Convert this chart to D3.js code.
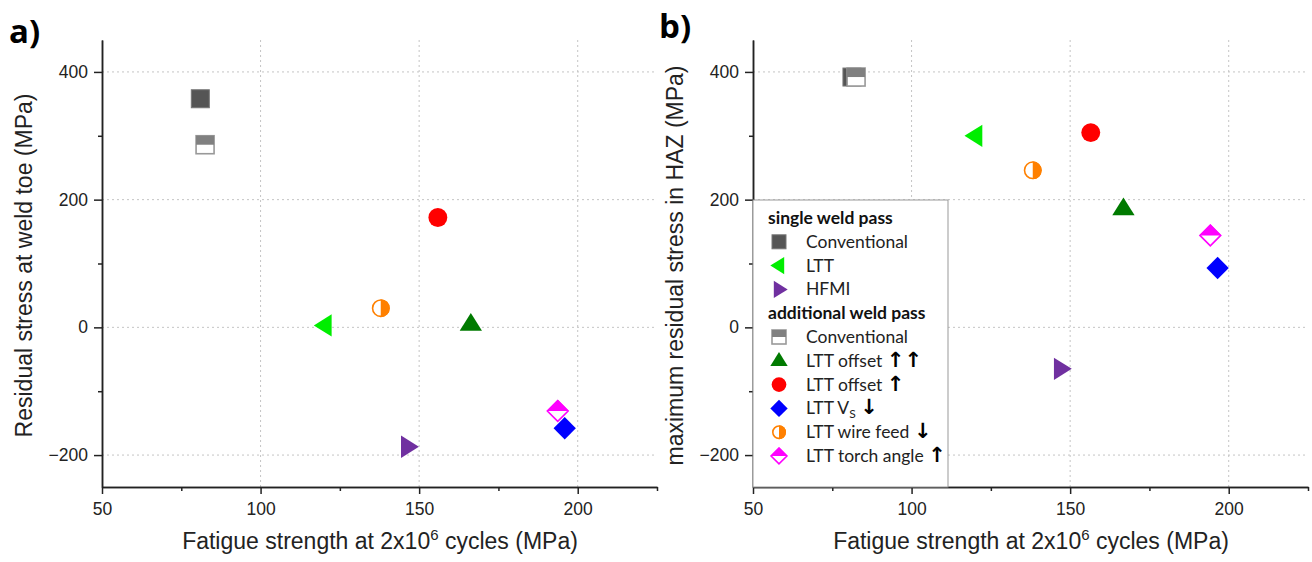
<!DOCTYPE html>
<html>
<head>
<meta charset="utf-8">
<script src="https://cdn.jsdelivr.net/npm/d3@7"></script>
<style>
body { margin: 0; background: #fff; }
svg text { font-family: "Liberation Sans", Arial, sans-serif; }
</style>
</head>
<body>
<div id="chart"></div>
<script>
// series
const names = ["Conventional", "LTT", "HFMI", "Conventional", "LTT offset ↑↑", "LTT offset ↑", "LTT V_S ↓", "LTT wire feed ↓", "LTT torch angle ↑"];
const groups = ["single", "single", "single", "additional", "additional", "additional", "additional", "additional", "additional"];
const shapes = ["square", "triLeft", "triRight", "halfSquare", "triUp", "circle", "diamond", "halfCircle", "halfDiamond"];
const colors = ["#555555", "#00ee00", "#7030a0", "#808080", "#007a00", "#ff0000", "#0000ff", "#ff8000", "#ff00ff"];
const fatigueA = [81, 120.3, 146.4, 82.5, 166.3, 155.9, 195.9, 137.9, 193.7];
const fatigueB = [81.2, 120.2, 147, 82.5, 166.8, 156.5, 196.5, 138.2, 194.2];
const stressToe = [358, 3, -187, 286, 5, 172, -158, 30, -131];
const stressHAZ = [392, 300, -65, 392, 186, 305, 93, 246, 144];
const drawOrder = [0, 3, 1, 2, 4, 5, 7, 8, 6];

const xMajor = [50, 100, 150, 200];
const xMinor = [75, 125, 175, 225];
const yMajor = [-200, 0, 200, 400];
const yMinor = [-100, 100, 300];

const W = 1312, H = 562;
const plotTop = 40, plotBottom = 487, plotW = 555;

const svg = d3.select("#chart").append("svg")
  .attr("width", W).attr("height", H);

// draw a marker centred at 0,0
function marker(g, shape, color, s) {
  const h = s / 2;
  if (shape === "square") {
    g.append("rect").attr("x", -h).attr("y", -h).attr("width", s).attr("height", s)
      .attr("fill", color).attr("stroke", "#777").attr("stroke-width", 1);
  } else if (shape === "halfSquare") {
    g.append("rect").attr("x", -h).attr("y", -h).attr("width", s).attr("height", s)
      .attr("fill", "#fff").attr("stroke", "#999").attr("stroke-width", 1.6);
    g.append("rect").attr("x", -h).attr("y", -h).attr("width", s).attr("height", h)
      .attr("fill", color);
  } else if (shape === "triLeft") {
    const r = s * 0.62;
    g.append("path").attr("d", `M${-r},0L${r * 0.6},${-r}L${r * 0.6},${r}Z`).attr("fill", color);
  } else if (shape === "triRight") {
    const r = s * 0.62;
    g.append("path").attr("d", `M${r},0L${-r * 0.6},${-r}L${-r * 0.6},${r}Z`).attr("fill", color);
  } else if (shape === "triUp") {
    const r = s * 0.62;
    g.append("path").attr("d", `M0,${-r}L${r},${r * 0.6}L${-r},${r * 0.6}Z`).attr("fill", color);
  } else if (shape === "circle") {
    g.append("circle").attr("r", h * 1.05).attr("fill", color);
  } else if (shape === "halfCircle") {
    const r = h;
    g.append("circle").attr("r", r - 0.8).attr("fill", "#fff").attr("stroke", color).attr("stroke-width", 1.6);
    g.append("path").attr("d", `M0,${-r}A${r},${r} 0 0,1 0,${r}Z`).attr("fill", color);
  } else if (shape === "diamond") {
    const r = s * 0.62;
    g.append("path").attr("d", `M0,${-r}L${r},0L0,${r}L${-r},0Z`).attr("fill", color);
  } else if (shape === "halfDiamond") {
    const r = s * 0.62;
    g.append("path").attr("d", `M0,${-r + 0.8}L${r - 0.8},0L0,${r - 0.8}L${-r + 0.8},0Z`)
      .attr("fill", "#fff").attr("stroke", color).attr("stroke-width", 1.6);
    g.append("path").attr("d", `M0,${-r}L${r},0L${-r},0Z`).attr("fill", color);
  }
}

function panel(left, xvals, yvals, ytitle, tag, tagX, tagY) {
  const x = d3.scaleLinear().domain([50, 225]).range([left, left + plotW]);
  const y = d3.scaleLinear().domain([-250, 450]).range([plotBottom, plotTop]);
  const g = svg.append("g");

  // grid
  g.append("g").selectAll("line").data(xMajor.slice(1)).join("line")
    .attr("x1", d => x(d)).attr("x2", d => x(d)).attr("y1", plotTop).attr("y2", plotBottom)
    .attr("stroke", "#c4c4c4").attr("stroke-dasharray", "2,3");
  g.append("g").selectAll("line").data(yMajor).join("line")
    .attr("x1", left).attr("x2", left + plotW).attr("y1", d => y(d)).attr("y2", d => y(d))
    .attr("stroke", "#c4c4c4").attr("stroke-dasharray", "2,3");

  // axes
  g.append("g").attr("transform", `translate(0,${plotBottom})`)
    .call(d3.axisBottom(x).tickValues(xMajor).tickSize(7).tickSizeOuter(0).tickPadding(9));
  g.append("g").attr("transform", `translate(0,${plotBottom})`)
    .call(d3.axisBottom(x).tickValues(xMinor).tickSize(4).tickSizeOuter(0).tickFormat(""));
  g.append("g").attr("transform", `translate(${left},0)`)
    .call(d3.axisLeft(y).tickValues(yMajor).tickSize(8).tickSizeOuter(0).tickPadding(6)
      .tickFormat(d => d < 0 ? "\u2212" + Math.abs(d) : d));
  g.append("g").attr("transform", `translate(${left},0)`)
    .call(d3.axisLeft(y).tickValues(yMinor).tickSize(4).tickSizeOuter(0).tickFormat(""));
  g.selectAll(".domain, .tick line").attr("stroke", "#222").attr("stroke-width", 1.5);
  g.selectAll(".tick text").attr("font-size", 17.5).attr("fill", "#222")
    .attr("font-family", "Liberation Sans, Arial, sans-serif");

  // axis titles
  const xt = g.append("text").attr("x", left + 278).attr("y", 549)
    .attr("text-anchor", "middle").attr("font-size", 23).attr("fill", "#222");
  xt.append("tspan").text("Fatigue strength at 2x10");
  xt.append("tspan").attr("dy", -9).attr("font-size", 15).text("6");
  xt.append("tspan").attr("dy", 9).text(" cycles (MPa)");

  g.append("text").attr("transform", `translate(${left - 70},${(plotTop + plotBottom) / 2 + 2}) rotate(-90)`)
    .attr("text-anchor", "middle").attr("font-size", 23).attr("fill", "#222").text(ytitle);

  g.append("text").attr("x", tagX).attr("y", tagY)
    .attr("font-size", 33).attr("font-weight", "bold").attr("fill", "#000")
    .style("font-family", "Open Sans, sans-serif").text(tag);

  // points
  g.append("g").selectAll("g").data(drawOrder).join("g")
    .attr("transform", i => `translate(${x(xvals[i])},${y(yvals[i])})`)
    .each(function (i) { marker(d3.select(this), shapes[i], colors[i], 18); });

  return { x, y, g };
}

panel(102, fatigueA, stressToe, "Residual stress at weld toe (MPa)", "a)", 9, 43);
panel(753, fatigueB, stressHAZ, "maximum residual stress in HAZ (MPa)", "b)", 659, 38);

// legend inside panel b
const lg = svg.append("g").attr("transform", `translate(753,200)`);
lg.append("rect").attr("x", 0).attr("y", 0).attr("width", 195).attr("height", 287)
  .attr("fill", "#fff").attr("stroke", "#999").attr("stroke-width", 1);

const rows = [];
rows.push({ head: "single weld pass" });
groups.forEach((gr, i) => { if (gr === "single") rows.push({ i }); });
rows.push({ head: "additional weld pass" });
groups.forEach((gr, i) => { if (gr === "additional") rows.push({ i }); });

// text with bold arrows and an optional subscript (marked by "_")
function legendText(t, label) {
  const pieces = label.split(/([↑↓])/);
  pieces.forEach(p => {
    if (p === "↑" || p === "↓") {
      t.append("tspan").attr("font-weight", "bold").attr("fill", "#000")
        .style("font-family", "DejaVu Sans, sans-serif").attr("font-size", 21).text(p);
    } else if (p.includes("_")) {
      const [a, b] = p.split("_");
      t.append("tspan").text(a);
      t.append("tspan").attr("dy", 4).attr("font-size", 12).text(b[0]);
      t.append("tspan").attr("dy", -4).text(b.slice(1));
    } else if (p) {
      t.append("tspan").text(p);
    }
  });
}

rows.forEach((r, k) => {
  const ry = 18 + k * 23.8;
  if (r.head) {
    lg.append("text").attr("x", 15).attr("y", ry + 6).attr("font-size", 17.5).attr("font-weight", "bold")
      .attr("fill", "#111").style("font-family", "Lato, sans-serif").text(r.head);
  } else {
    const mg = lg.append("g").attr("transform", `translate(26,${ry})`);
    marker(mg, shapes[r.i], colors[r.i], 14);
    const t = lg.append("text").attr("x", 53).attr("y", ry + 6).attr("font-size", 17.5)
      .attr("fill", "#222").style("font-family", "Lato, sans-serif");
    legendText(t, names[r.i]);
  }
});
</script>
</body>
</html>
